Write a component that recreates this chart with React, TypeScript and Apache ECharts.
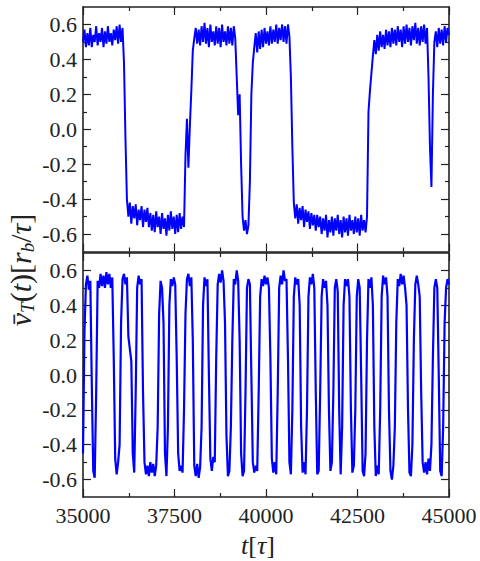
import React, { useEffect, useRef } from "react";
import * as echarts from "echarts";

// Sampling grid of the time series (t in units of tau)
const T_START = 35000;
const T_STEP = 40;

// Upper panel: v_T(t), one value every T_STEP
const TOP_VALUES = [
  0.50, 0.57, 0.47, 0.55, 0.48, 0.58, 0.47, 0.54, 0.50, 0.59, 0.48, 0.55, 0.50, 0.58, 0.47, 0.56, 0.49, 0.59, 0.50, 0.55, 0.48, 0.57, 0.51, 0.59, 0.49, 0.60, 0.50, 0.58,
  0.38, -0.05, -0.40,
  -0.50, -0.42, -0.54, -0.44, -0.51, -0.43, -0.55, -0.46, -0.52, -0.44, -0.56, -0.46, -0.53, -0.45, -0.56,
  -0.48, -0.58, -0.49, -0.59, -0.47, -0.56, -0.50, -0.60, -0.48, -0.57, -0.51, -0.61, -0.49, -0.58, -0.47, -0.57, -0.50, -0.60, -0.49, -0.59, -0.48, -0.57, -0.50, -0.56,
  -0.15, 0.06, -0.22, 0.02, 0.22, 0.45,
  0.52, 0.58, 0.49, 0.57, 0.48, 0.59, 0.50, 0.61, 0.49, 0.58, 0.47, 0.60, 0.50, 0.56, 0.48, 0.59, 0.49, 0.58, 0.47, 0.60, 0.50, 0.56, 0.48, 0.59, 0.49, 0.58, 0.48, 0.59, 0.52,
  0.30, 0.08, 0.20, -0.20, -0.50, -0.58, -0.52, -0.60, -0.55, -0.30, 0.20, 0.38,
  0.47, 0.55, 0.44, 0.56, 0.46, 0.57, 0.47, 0.58, 0.49, 0.56, 0.48, 0.59, 0.49, 0.57, 0.50, 0.60, 0.49, 0.58, 0.51, 0.60, 0.50, 0.59, 0.49, 0.60, 0.53,
  0.30, -0.10,
  -0.42, -0.51, -0.43, -0.54, -0.45, -0.52, -0.44, -0.56, -0.46, -0.53, -0.47, -0.57, -0.48, -0.55, -0.49, -0.58, -0.49,
  -0.56, -0.50, -0.60, -0.51, -0.58, -0.49, -0.62, -0.52, -0.59, -0.50, -0.61, -0.51, -0.58, -0.49, -0.60, -0.52, -0.62, -0.50, -0.59, -0.51, -0.61, -0.49, -0.58, -0.52, -0.60, -0.50, -0.59, -0.51, -0.61, -0.49, -0.58, -0.52, -0.59, -0.50,
  0.10, 0.22, 0.32,
  0.42, 0.51, 0.43, 0.54, 0.45, 0.56, 0.47, 0.54, 0.46, 0.57, 0.48, 0.56, 0.47, 0.58, 0.49, 0.57, 0.48, 0.59, 0.50, 0.57, 0.47, 0.59, 0.49, 0.60, 0.50, 0.58, 0.48, 0.59, 0.51, 0.61, 0.49, 0.58, 0.48, 0.59, 0.50, 0.60, 0.49, 0.58,
  0.30, -0.10, -0.33, 0.20,
  0.50, 0.56, 0.47, 0.58, 0.49, 0.57, 0.48, 0.59, 0.50, 0.58, 0.54,
];

// Lower panel: v_T(t), one value every T_STEP
const BOTTOM_VALUES = [
  -0.45, 0.25, 0.52, 0.57, 0.49, 0.54, -0.05, -0.55, -0.59, -0.10,
  0.54, 0.50, 0.58, 0.51, 0.57, 0.50, 0.59, 0.52, 0.58, 0.50,
  0.56, 0.10, -0.48, -0.57, -0.50, -0.40, 0.30, 0.55, 0.58, 0.52,
  0.56, 0.22, 0.15, 0.08, -0.45, -0.56, -0.10, 0.50, 0.57, 0.52,
  0.55, -0.10, -0.50, -0.57, -0.52, -0.58, -0.50, -0.56, -0.51, -0.58,
  -0.52, -0.30, 0.35, 0.54, 0.50, 0.30, -0.45, -0.58, -0.30, 0.40,
  0.55, 0.51, 0.56, 0.52, 0.10, -0.45, -0.55, -0.52, -0.56, -0.20,
  0.35, 0.55, 0.58, 0.51, 0.56, 0.20, -0.52, -0.58, -0.51, -0.59,
  -0.53, -0.30, 0.40, 0.56, 0.51, 0.55, 0.00, -0.48, -0.55, -0.47,
  -0.50, 0.10, 0.52, 0.58, 0.53, 0.60, 0.54, 0.30, -0.35, -0.58,
  -0.55, -0.30, 0.20, 0.55, 0.52, 0.60, 0.54, 0.20, -0.45, -0.58,
  -0.55, -0.10, 0.50, 0.55, 0.52, 0.00, -0.50, -0.56, -0.52, -0.55,
  -0.10, 0.45, 0.55, 0.51, 0.57, 0.52, 0.56, 0.50, 0.10, -0.48,
  -0.56, -0.50, -0.57, -0.10, 0.50, 0.57, 0.52, 0.60, 0.54, 0.55,
  0.10, -0.50, -0.57, -0.20, 0.45, 0.56, 0.52, 0.55, 0.40, -0.30,
  -0.56, -0.50, -0.57, -0.20, 0.45, 0.56, 0.52, 0.58, 0.50, -0.10,
  -0.57, -0.55, -0.10, 0.45, 0.55, 0.50, 0.54, 0.40, -0.20, -0.55,
  -0.50, -0.10, 0.50, 0.55, 0.48, -0.20, -0.57, -0.30, 0.40, 0.55,
  0.51, 0.55, 0.45, -0.20, -0.56, -0.52, -0.20, 0.45, 0.55, 0.50,
  0.00, -0.55, -0.58, -0.45, 0.20, 0.55, 0.50, 0.56, 0.40, -0.30,
  -0.58, -0.52, -0.57, -0.20, 0.45, 0.57, 0.52, 0.56, 0.45, -0.20,
  -0.55, -0.60, -0.52, -0.30, 0.30, 0.55, 0.51, 0.58, 0.52, 0.57,
  0.50, 0.40, -0.20, -0.56, -0.58, -0.40, 0.20, 0.52, 0.57, 0.52,
  0.45, -0.10, -0.50, -0.56, -0.50, -0.57, -0.48, -0.55, -0.40, 0.10,
  0.50, 0.55, 0.50, 0.00, -0.55, -0.58, -0.30, 0.30, 0.50, 0.55, 0.52,
];

const X_MIN = 35000;
const X_MAX = 45000;
const X_INTERVAL = 2500;
const Y_MIN = -0.7;
const Y_MAX = 0.7;
const Y_MAJOR = [-0.6, -0.4, -0.2, 0, 0.2, 0.4, 0.6];
const Y_MINOR = [-0.5, -0.3, -0.1, 0.1, 0.3, 0.5];

const AXIS_COLOR = "#222222";
const LINE_COLOR = "#0000ff";
const FONT = "Liberation Serif, Times New Roman, serif";

function toPairs(values: number[]) {
  return values.map((v, i) => [T_START + i * T_STEP, v]);
}

const tickLabelStyle = {
  fontFamily: FONT,
  fontSize: 22,
  fontWeight: "normal",
  color: AXIS_COLOR,
};

function xAxesFor(grid: number, showLabels: boolean) {
  const common = {
    type: "value",
    gridIndex: grid,
    min: X_MIN,
    max: X_MAX,
    interval: X_INTERVAL,
    splitLine: { show: false },
    axisLine: { show: true, onZero: false, lineStyle: { color: AXIS_COLOR, width: 1.6 } },
    axisTick: { show: true, inside: true, length: 8, lineStyle: { color: AXIS_COLOR, width: 1.2 } },
    minorTick: { show: true, splitNumber: 2, length: 4, lineStyle: { color: AXIS_COLOR, width: 1.2 } },
    minorSplitLine: { show: false },
  };
  return [
    {
      ...common,
      position: "bottom",
      axisLabel: {
        show: showLabels,
        ...tickLabelStyle,
        margin: 7,
        formatter: (v: number) => String(v),
      },
    },
    { ...common, position: "top", axisLabel: { show: false } },
  ];
}

function yAxesFor(grid: number) {
  const common = {
    type: "value",
    gridIndex: grid,
    min: Y_MIN,
    max: Y_MAX,
    splitLine: { show: false },
  };
  const major = (position: string, labels: boolean) => ({
    ...common,
    position,
    axisLine: { show: true, onZero: false, lineStyle: { color: AXIS_COLOR, width: 1.6 } },
    axisTick: {
      show: true,
      inside: true,
      length: 8,
      customValues: Y_MAJOR,
      lineStyle: { color: AXIS_COLOR, width: 1.2 },
    },
    axisLabel: labels
      ? {
          show: true,
          customValues: Y_MAJOR,
          ...tickLabelStyle,
          margin: 6,
          formatter: (v: number) => v.toFixed(1),
        }
      : { show: false },
  });
  const minor = (position: string) => ({
    ...common,
    position,
    axisLine: { show: false },
    axisTick: {
      show: true,
      inside: true,
      length: 4,
      customValues: Y_MINOR,
      lineStyle: { color: AXIS_COLOR, width: 1.2 },
    },
    axisLabel: { show: false },
  });
  return [major("left", true), minor("left"), major("right", false), minor("right")];
}

export default function App() {
  const ref = useRef<HTMLDivElement>(null);

  useEffect(() => {
    if (!ref.current) return;
    const chart = echarts.init(ref.current, undefined, { renderer: "svg" });

    const option = {
      animation: false,
      backgroundColor: "#ffffff",
      textStyle: { fontFamily: FONT },
      grid: [
        { left: 83, top: 7, width: 366, height: 244.5 },
        { left: 83, top: 253, width: 366, height: 244 },
      ],
      xAxis: [...xAxesFor(0, false), ...xAxesFor(1, true)],
      yAxis: [...yAxesFor(0), ...yAxesFor(1)],
      series: [
        {
          type: "line",
          xAxisIndex: 0,
          yAxisIndex: 0,
          data: toPairs(TOP_VALUES),
          showSymbol: false,
          symbol: "none",
          lineStyle: { color: LINE_COLOR, width: 2 },
          z: 1,
        },
        {
          type: "line",
          xAxisIndex: 2,
          yAxisIndex: 4,
          data: toPairs(BOTTOM_VALUES),
          showSymbol: false,
          symbol: "none",
          lineStyle: { color: LINE_COLOR, width: 2.2 },
          z: 1,
        },
      ],
      graphic: [
        {
          type: "text",
          x: 258,
          y: 545,
          style: {
            text: "{i|t}{u|[}{i|τ}{u|]}",
            align: "center",
            verticalAlign: "middle",
            rich: {
              i: { fontFamily: FONT, fontStyle: "italic", fontSize: 26, fill: AXIS_COLOR, lineHeight: 30 },
              u: { fontFamily: FONT, fontSize: 26, fill: AXIS_COLOR, lineHeight: 30 },
            },
          },
        },
        {
          type: "text",
          x: 20,
          y: 270,
          rotation: Math.PI / 2,
          style: {
            text: "{i|v\u0304}{s|T}{u|(}{i|t}{u|)[}{i|r}{s|b}{u|/}{i|τ}{u|]}",
            align: "center",
            verticalAlign: "middle",
            rich: {
              i: { fontFamily: FONT, fontStyle: "italic", fontSize: 30, fill: AXIS_COLOR, lineHeight: 34 },
              u: { fontFamily: FONT, fontSize: 30, fill: AXIS_COLOR, lineHeight: 34 },
              s: {
                fontFamily: FONT,
                fontStyle: "italic",
                fontSize: 19,
                fill: AXIS_COLOR,
                lineHeight: 19,
                verticalAlign: "bottom",
              },
            },
          },
        },
      ],
    };

    chart.setOption(option as any);
    return () => chart.dispose();
  }, []);

  return (
    <div
      ref={ref}
      style={{ position: "fixed", left: 0, top: 0, width: 480, height: 561, background: "#fff" }}
    />
  );
}
